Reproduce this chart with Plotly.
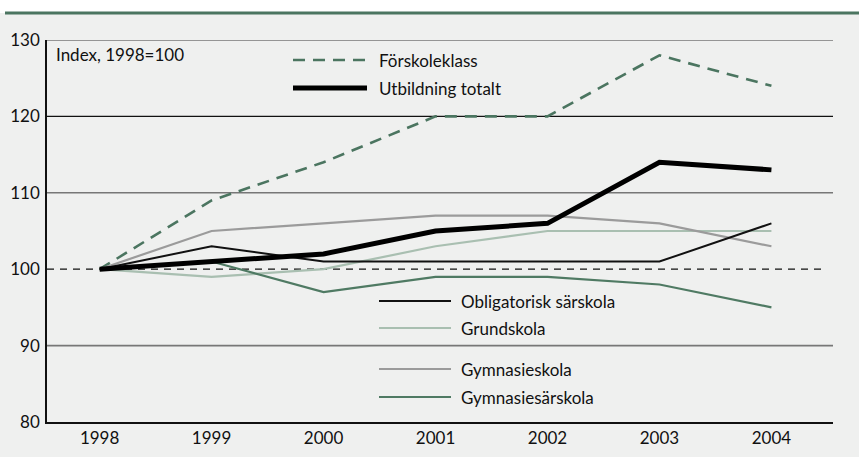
import plotly.graph_objects as go

years = [1998, 1999, 2000, 2001, 2002, 2003, 2004]
forskoleklass = [100, 109, 114, 120, 120, 128, 124]
utbildning_totalt = [100, 101, 102, 105, 106, 114, 113]
obligatorisk_sarskola = [100, 103, 101, 101, 101, 101, 106]
grundskola = [100, 99, 100, 103, 105, 105, 105]
gymnasieskola = [100, 105, 106, 107, 107, 106, 103]
gymnasiesarskola = [100, 101, 97, 99, 99, 98, 95]
y_ticks = [80, 90, 100, 110, 120, 130]

W, H = 859, 457
L, R, T, B = 47, 26, 40, 35
PW, PH = W - L - R, H - T - B

def px(x):
    return (x - L) / PW

def py(y):
    return (H - B - y) / PH

GREEN = "#4b7560"
series = [
    ("Förskoleklass", forskoleklass, GREEN, 2.6, "12px,8px"),
    ("Grundskola", grundskola, "#a9bfb1", 2.2, "solid"),
    ("Gymnasieskola", gymnasieskola, "#9b9b9b", 2.2, "solid"),
    ("Gymnasiesärskola", gymnasiesarskola, "#4f7a63", 2.2, "solid"),
    ("Obligatorisk särskola", obligatorisk_sarskola, "#111111", 2.0, "solid"),
    ("Utbildning totalt", utbildning_totalt, "#000000", 5.0, "solid"),
]

fig = go.Figure()
for name, vals, col, w, dash in series:
    fig.add_trace(go.Scatter(x=years, y=vals, mode="lines", name=name,
                             line=dict(color=col, width=w, dash=dash),
                             showlegend=False))

shapes = []
shapes.append(dict(type="rect", xref="paper", yref="paper", x0=px(-5), x1=px(870),
                   y0=py(13), y1=py(-5), fillcolor="white", line=dict(width=0), layer="below"))
shapes.append(dict(type="line", xref="paper", yref="paper", x0=px(5), x1=px(870),
                   y0=py(13), y1=py(13), line=dict(color="#4b7560", width=3)))
for v, col in [(130, "#777777"), (120, "#111111"), (110, "#777777"), (90, "#777777")]:
    shapes.append(dict(type="line", xref="paper", yref="y", x0=0, x1=1, y0=v, y1=v,
                       line=dict(color=col, width=1.6 if col == "#777777" else 1.4), layer="below"))
shapes.append(dict(type="line", xref="paper", yref="y", x0=0, x1=0.99, y0=100, y1=100,
                   line=dict(color="#111111", width=1.2, dash="7px,6px"), layer="below"))

legend_items = [
    ("Förskoleklass", GREEN, 2.6, "12px,8px", 293, 367, 379, 60),
    ("Utbildning totalt", "#000000", 5.0, "solid", 293, 367, 379, 88),
    ("Obligatorisk särskola", "#111111", 2.0, "solid", 379, 451, 461, 301),
    ("Grundskola", "#a9bfb1", 2.2, "solid", 379, 451, 461, 328),
    ("Gymnasieskola", "#9b9b9b", 2.2, "solid", 379, 451, 461, 369),
    ("Gymnasiesärskola", "#4f7a63", 2.2, "solid", 379, 451, 461, 397),
]
annotations = []
for name, col, w, dash, x0, x1, xt, yy in legend_items:
    shapes.append(dict(type="line", xref="paper", yref="paper", x0=px(x0), x1=px(x1),
                       y0=py(yy), y1=py(yy), line=dict(color=col, width=w, dash=dash)))
    annotations.append(dict(text=name, xref="paper", yref="paper", x=px(xt - 2), y=py(yy),
                            xanchor="left", yanchor="middle", showarrow=False,
                            font=dict(size=17, color="#111111")))

annotations.append(dict(text="Index, 1998=100", xref="paper", yref="paper", x=px(54), y=py(55),
                        xanchor="left", yanchor="middle", showarrow=False,
                        font=dict(size=17, color="#111111")))

fig.update_layout(
    width=W, height=H,
    margin=dict(l=L, r=R, t=T, b=B),
    paper_bgcolor="#eff0ef", plot_bgcolor="#eff0ef",
    font=dict(family="Lato, Open Sans, sans-serif", size=17, color="#111111"),
    shapes=shapes, annotations=annotations,
    xaxis=dict(range=[1997.53, 2004.55], tickvals=years, ticktext=[str(y) for y in years],
               showgrid=False, zeroline=False, showline=True, linecolor="#111111", linewidth=2,
               ticks="", tickfont=dict(size=17), automargin=False),
    yaxis=dict(range=[80, 130], tickvals=y_ticks, showgrid=False, zeroline=False,
               showline=True, linecolor="#111111", linewidth=1.5, ticks="",
               tickfont=dict(size=17), automargin=False, ticklabelstandoff=2),
)

fig.write_html("out.html", config={"displayModeBar": False},
               post_script="document.body.style.margin='0px';")
